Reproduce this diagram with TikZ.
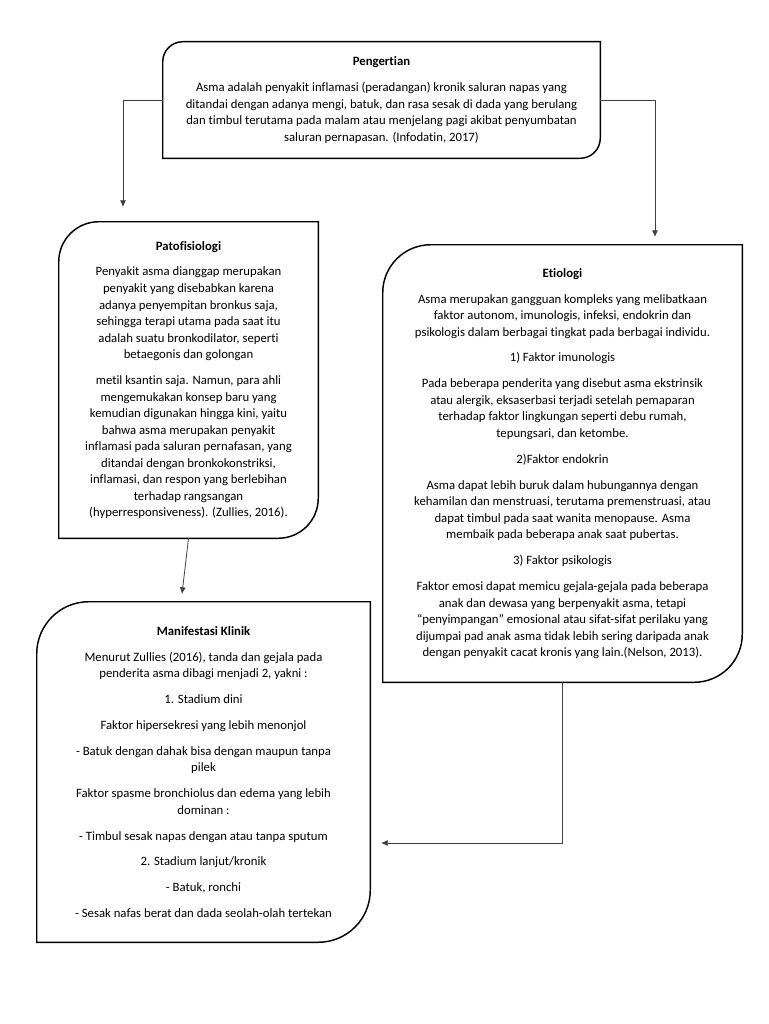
\documentclass[tikz,border=0pt]{standalone}
\usepackage{fontspec}
\setmainfont{Carlito}[Ligatures={NoCommon}]
\usetikzlibrary{arrows,arrows.meta,positioning,calc}

\newcommand{\diagframe}[2]{%
  \draw[frame] (#1.west) [rounded corners=#2] |- (#1.north) [sharp corners] -| (#1.east)
    [rounded corners=#2] |- (#1.south) [sharp corners] -| (#1.west);}

\begin{document}
\begin{tikzpicture}[x=0.75pt, y=-0.75pt,
    box/.style={align=center, inner sep=0pt, font=\fontsize{9.55}{12.4}\selectfont},
    frame/.style={draw=black, line width=1.1pt},
    link/.style={draw=black!75, line width=0.6pt, -{Latex[length=5pt, width=4.5pt]}}]
    \useasboundingbox (0,0) rectangle (768,1024);

    \node (peng) [box, minimum width=327.75pt, minimum height=87pt] at (381.5,100) {%
        \textbf{Pengertian}\\[7pt]
        Asma adalah penyakit inflamasi (peradangan) kronik saluran napas yang\\
        ditandai dengan adanya mengi, batuk, dan rasa sesak di dada yang berulang\\
        dan timbul terutama pada malam atau menjelang pagi akibat penyumbatan\\
        saluran pernapasan. (Infodatin, 2017)};
    \node (pato) [box, minimum width=194.25pt, minimum height=237pt] at (188.5,380) {%
        \textbf{Patofisiologi}\\[7pt]
        Penyakit asma dianggap merupakan\\
        penyakit yang disebabkan karena\\
        adanya penyempitan bronkus saja,\\
        sehingga terapi utama pada saat itu\\
        adalah suatu bronkodilator, seperti\\
        betaegonis dan golongan\\[7pt]
        metil ksantin saja. Namun, para ahli\\
        mengemukakan konsep baru yang\\
        kemudian digunakan hingga kini, yaitu\\
        bahwa asma merupakan penyakit\\
        inflamasi pada saluran pernafasan, yang\\
        ditandai dengan bronkokonstriksi,\\
        inflamasi, dan respon yang berlebihan\\
        terhadap rangsangan\\
        (hyperresponsiveness). (Zullies, 2016).};
    \node (etio) [box, minimum width=269.25pt, minimum height=327.75pt] at (562.5,463.5) {%
        \textbf{Etiologi}\\[7pt]
        Asma merupakan gangguan kompleks yang melibatkaan\\
        faktor autonom, imunologis, infeksi, endokrin dan\\
        psikologis dalam berbagai tingkat pada berbagai individu.\\[7pt]
        1) Faktor imunologis\\[7pt]
        Pada beberapa penderita yang disebut asma ekstrinsik\\
        atau alergik, eksaserbasi terjadi setelah pemaparan\\
        terhadap faktor lingkungan seperti debu rumah,\\
        tepungsari, dan ketombe.\\[7pt]
        2)Faktor endokrin\\[7pt]
        Asma dapat lebih buruk dalam hubungannya dengan\\
        kehamilan dan menstruasi, terutama premenstruasi, atau\\
        dapat timbul pada saat wanita menopause. Asma\\
        membaik pada beberapa anak saat pubertas.\\[7pt]
        3) Faktor psikologis\\[7pt]
        Faktor emosi dapat memicu gejala-gejala pada beberapa\\
        anak dan dewasa yang berpenyakit asma, tetapi\\
        “penyimpangan” emosional atau sifat-sifat perilaku yang\\
        dijumpai pad anak asma tidak lebih sering daripada anak\\
        dengan penyakit cacat kronis yang lain.(Nelson, 2013).};
    \node (mani) [box, minimum width=249.75pt, minimum height=255pt] at (203.5,772) {%
        \textbf{Manifestasi Klinik}\\[7pt]
        Menurut Zullies (2016), tanda dan gejala pada\\
        penderita asma dibagi menjadi 2, yakni :\\[7pt]
        1. Stadium dini\\[7pt]
        Faktor hipersekresi yang lebih menonjol\\[7pt]
        - Batuk dengan dahak bisa dengan maupun tanpa\\
        pilek\\[7pt]
        Faktor spasme bronchiolus dan edema yang lebih\\
        dominan :\\[7pt]
        - Timbul sesak napas dengan atau tanpa sputum\\[7pt]
        2. Stadium lanjut/kronik\\[7pt]
        - Batuk, ronchi\\[7pt]
        - Sesak nafas berat dan dada seolah-olah tertekan};

    \diagframe{peng}{15pt}
    \diagframe{pato}{30pt}
    \diagframe{etio}{36pt}
    \diagframe{mani}{39pt}

    \coordinate (patoin) at (123,207);
    \coordinate (etioin) at (655,237);
    \coordinate (maniin) at (182,594);
    \coordinate (maniside) at (381,843);

    \draw[link] (peng.west) -| (patoin);
    \draw[link] (peng.east) -| (etioin);
    \draw[link] (pato.south) -- (maniin);
    \draw[link] (etio.south) |- (maniside);
\end{tikzpicture}
\end{document}
